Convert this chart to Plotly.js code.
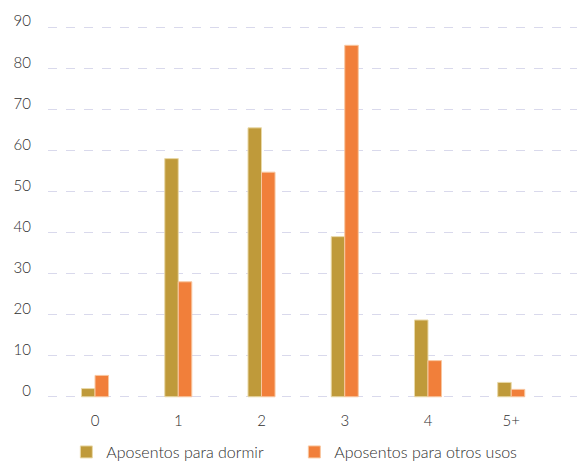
<!DOCTYPE html>
<html>
<head>
<meta charset="utf-8">
<script src="https://cdn.plot.ly/plotly-3.0.1.min.js"></script>
<style>html,body{margin:0;padding:0;background:#fff;}#chart{width:577px;height:466px;}</style>
</head>
<body>
<div id="chart"></div>
<script>
var categories = ["0", "1", "2", "3", "4", "5+"];
var dormir = [2, 58, 65.5, 39, 18.7, 3.5];
var otros = [5.2, 28, 54.7, 85.6, 8.8, 1.8];
var seriesNames = ["Aposentos para dormir", "Aposentos para otros usos"];
var yTicks = [0, 10, 20, 30, 40, 50, 60, 70, 80, 90];

var traces = [
  {type: "bar", x: categories, y: dormir, name: seriesNames[0],
   marker: {color: "#BF9A3A", line: {color: "#E9D9A8", width: 1}}},
  {type: "bar", x: categories, y: otros, name: seriesNames[1],
   marker: {color: "#F17F3A", line: {color: "#F8C7A0", width: 1}}}
];

var layout = {
  width: 577, height: 466,
  margin: {l: 48, r: 0, t: 26, b: 68},
  paper_bgcolor: "#fff", plot_bgcolor: "#fff",
  barmode: "group", bargap: 0.675, bargroupgap: 0,
  font: {family: "Lato, 'DejaVu Sans', sans-serif", size: 15, color: "#2e2e2e", weight: 300},
  showlegend: true,
  legend: {orientation: "h", x: 0.115, xref: "container", y: 0.03, yref: "container",
           xanchor: "left", yanchor: "middle",
           font: {size: 16, color: "#2e2e2e"}, entrywidth: 183, itemwidth: 30,
           traceorder: "normal"},
  xaxis: {type: "category", range: [-0.565, 5.79], showgrid: false, zeroline: false,
          showline: false, ticks: "", ticklabelstandoff: 12, fixedrange: true},
  yaxis: {range: [-0.3, 90.3], tickvals: yTicks, showgrid: true, gridcolor: "#D9D9EC",
          griddash: "dash", gridwidth: 1, zeroline: false, showline: false, ticks: "",
          ticklabelstandoff: 16, ticklabelshift: -6}
};

Plotly.newPlot("chart", traces, layout, {displayModeBar: false, staticPlot: true});
</script>
</body>
</html>
